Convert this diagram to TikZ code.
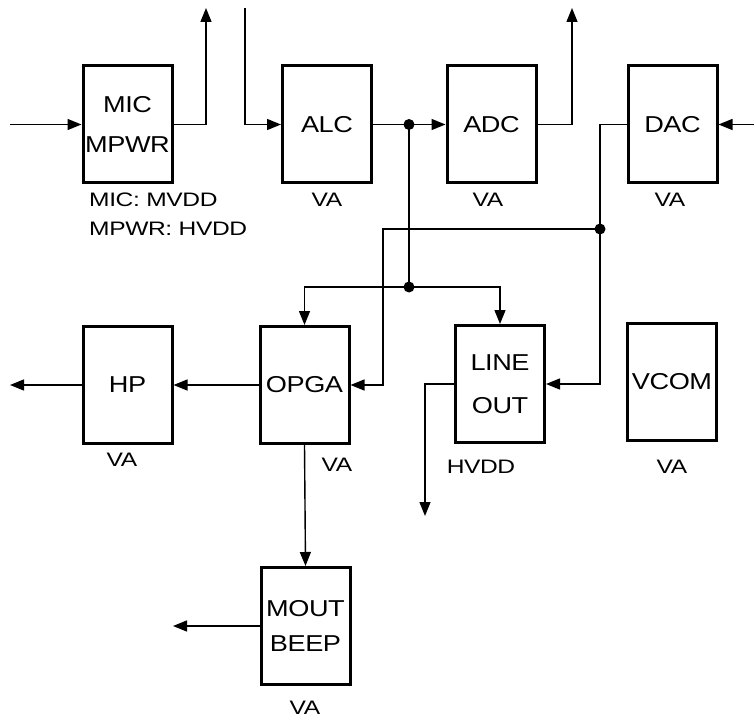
\documentclass[tikz,border=0pt]{standalone}
\usepackage{fontspec}
\setmainfont{Liberation Sans}
\newfontfamily\boxfont[FakeStretch=1.18,LetterSpace=-2]{Liberation Sans}
\newfontfamily\lblfont[FakeStretch=1.26,LetterSpace=-2]{Liberation Sans}
\usetikzlibrary{arrows.meta}
\begin{document}
\begin{tikzpicture}[x=1pt,y=-1pt,
  blk/.style={draw, line width=3pt, minimum width=89pt, minimum height=117pt, inner sep=0pt, align=center,
    font=\boxfont\fontsize{23}{40}\selectfont},
  lbl/.style={inner sep=0pt, font=\lblfont\fontsize{19.5}{20}\selectfont},
  wire/.style={line width=1.4pt},
  arr/.style={wire, -{Triangle[length=14pt,width=11pt]}},
  jdot/.style={circle, fill, inner sep=0pt, minimum size=11pt}]
\useasboundingbox (0,0) rectangle (754,719);

% blocks
\node[blk] (mic) at (127.5,124.5) {MIC\\MPWR};
\node[blk] (alc) at (327,124.5) {ALC};
\node[blk] (adc) at (491.5,124.5) {ADC};
\node[blk] (dac) at (672.5,124.5) {DAC};
\node[blk] (hp) at (127.5,385) {HP};
\node[blk] (opga) at (304.5,385) {OPGA};
\node[blk] (line) at (500,384) {LINE\\[3pt]OUT};
\node[blk] (vcom) at (672,382) {VCOM};
\node[blk] (mout) at (305.5,626) {MOUT\\[-5pt]BEEP};

% supply labels
\node[lbl, anchor=west] (lmic) at (89,200) {MIC: MVDD};
\node[lbl, anchor=west] (lmpwr) at (89,229) {MPWR: HVDD};
\node[lbl] (lalc) at (327,200) {VA};
\node[lbl] (ladc) at (488,200) {VA};
\node[lbl] (ldac) at (670,200) {VA};
\node[lbl] (lhp) at (122,460) {VA};
\node[lbl] (lopga) at (337,465) {VA};
\node[lbl] (lline) at (481,467) {HVDD};
\node[lbl] (lvcom) at (672,467) {VA};
\node[lbl] (lmout) at (305,708) {VA};

% coordinates
\coordinate (inmic) at (10,124.5);
\coordinate (micup) at (206,8);
\coordinate (alctop) at (245,8);
\coordinate (adcup) at (572,8);
\coordinate (dacin) at (754,124.5);
\coordinate (c1) at (383,229);
\coordinate (hpout) at (10,385);
\coordinate (moutout) at (173,626);
\coordinate (lineout) at (425,516);
\node[jdot] (j1) at (409,124.5) {};
\node[jdot] (j2) at (600,229) {};
\node[jdot] (j3) at (409,287) {};

% wires
\draw[arr] (inmic) -- (mic.west);
\draw[arr] (mic.east) -| (micup);
\draw[arr] (alctop) |- (alc.west);
\draw[arr] (alc.east) -- (adc.west);
\draw[arr] (adc.east) -| (adcup);
\draw[arr] (dacin) -- (dac.east);
\draw[wire] (dac.west) -| (j2.center);
\draw[arr] (j2.center) |- (line.east);
\draw[arr] (j2.center) -- (c1) |- (opga.east);
\draw[wire] (j1.center) -- (j3.center);
\draw[arr] (j3.center) -| (opga.north);
\draw[arr] (j3.center) -| (line.north);
\draw[arr] (opga.west) -- (hp.east);
\draw[arr] (hp.west) -- (hpout);
\draw[arr] (opga.south) -- (mout.north);
\draw[arr] (mout.west) -- (moutout);
\draw[arr] (line.west) -| (lineout);
\end{tikzpicture}
\end{document}
